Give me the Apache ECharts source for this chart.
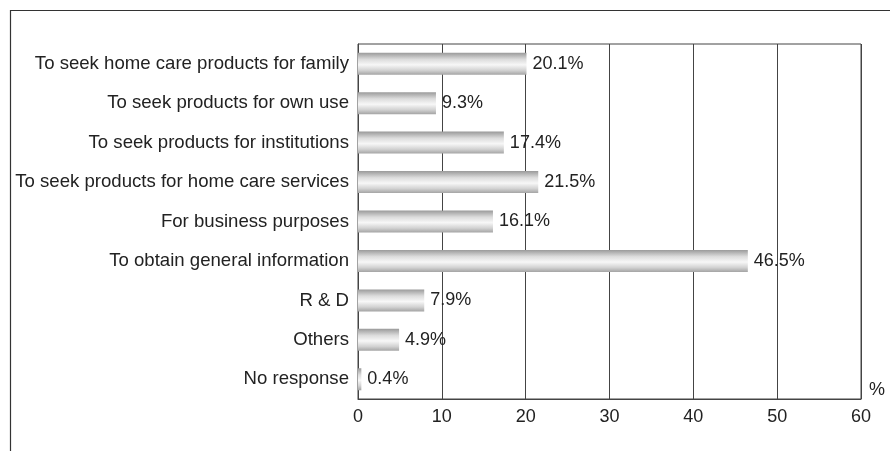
<!DOCTYPE html>
<html>
<head>
<meta charset="utf-8">
<script src="https://cdn.jsdelivr.net/npm/echarts@6/dist/echarts.min.js"></script>
<style>
  html, body { margin: 0; padding: 0; background: #fff; }
  #chart { width: 890px; height: 451px; }
</style>
</head>
<body>
<div id="chart"></div>
<script>
  const categories = [
    'To seek home care products for family',
    'To seek products for own use',
    'To seek products for institutions',
    'To seek products for home care services',
    'For business purposes',
    'To obtain general information',
    'R & D',
    'Others',
    'No response'
  ]
  const values = [20.1, 9.3, 17.4, 21.5, 16.1, 46.5, 7.9, 4.9, 0.4]
  const unitLabel = '%'

  const chart = echarts.init(document.getElementById('chart'))

  const barFill = new echarts.graphic.LinearGradient(0, 0, 0, 1, [
    { offset: 0, color: '#9a9a9a' },
    { offset: 0.3, color: '#dcdcdc' },
    { offset: 0.55, color: '#f7f7f7' },
    { offset: 0.8, color: '#d2d2d2' },
    { offset: 1, color: '#a4a4a4' }
  ])

  const font = 'Liberation Sans, Arial, sans-serif'

  let option = {
    animation: false,
    backgroundColor: '#fff',
    textStyle: { fontFamily: font },
    graphic: [{
      type: 'rect',
      shape: { x: 10.5, y: 10.5, width: 1000, height: 1000 },
      style: { fill: 'none', stroke: '#333', lineWidth: 1.2 },
      silent: true
    }],
    grid: {
      left: 358,
      right: 29,
      top: 44,
      bottom: 52,
      show: true,
      borderColor: '#444',
      borderWidth: 1
    },
    xAxis: {
      type: 'value',
      min: 0,
      max: 60,
      interval: 10,
      name: unitLabel,
      nameLocation: 'end',
      nameGap: 8,
      nameTextStyle: {
        fontSize: 18,
        color: '#222',
        fontFamily: font,
        verticalAlign: 'bottom'
      },
      axisLine: { show: true, lineStyle: { color: '#444', width: 1 } },
      axisTick: { show: false },
      axisLabel: { fontSize: 18, color: '#222', margin: 9, fontFamily: font },
      splitLine: { show: true, lineStyle: { color: '#444', width: 1 } }
    },
    yAxis: {
      type: 'category',
      inverse: true,
      data: categories,
      axisLine: { show: true, lineStyle: { color: '#444', width: 1 } },
      axisTick: { show: false },
      axisLabel: { fontSize: 18.6, color: '#222', margin: 9, fontFamily: font },
      splitLine: { show: false }
    },
    series: [{
      type: 'bar',
      data: values,
      barWidth: 22,
      itemStyle: { color: barFill },
      label: {
        show: true,
        position: 'right',
        distance: 6,
        fontSize: 18,
        color: '#222',
        fontFamily: font,
        formatter: p => p.value.toFixed(1) + '%'
      }
    }]
  }
  chart.setOption(option)
</script>
</body>
</html>
